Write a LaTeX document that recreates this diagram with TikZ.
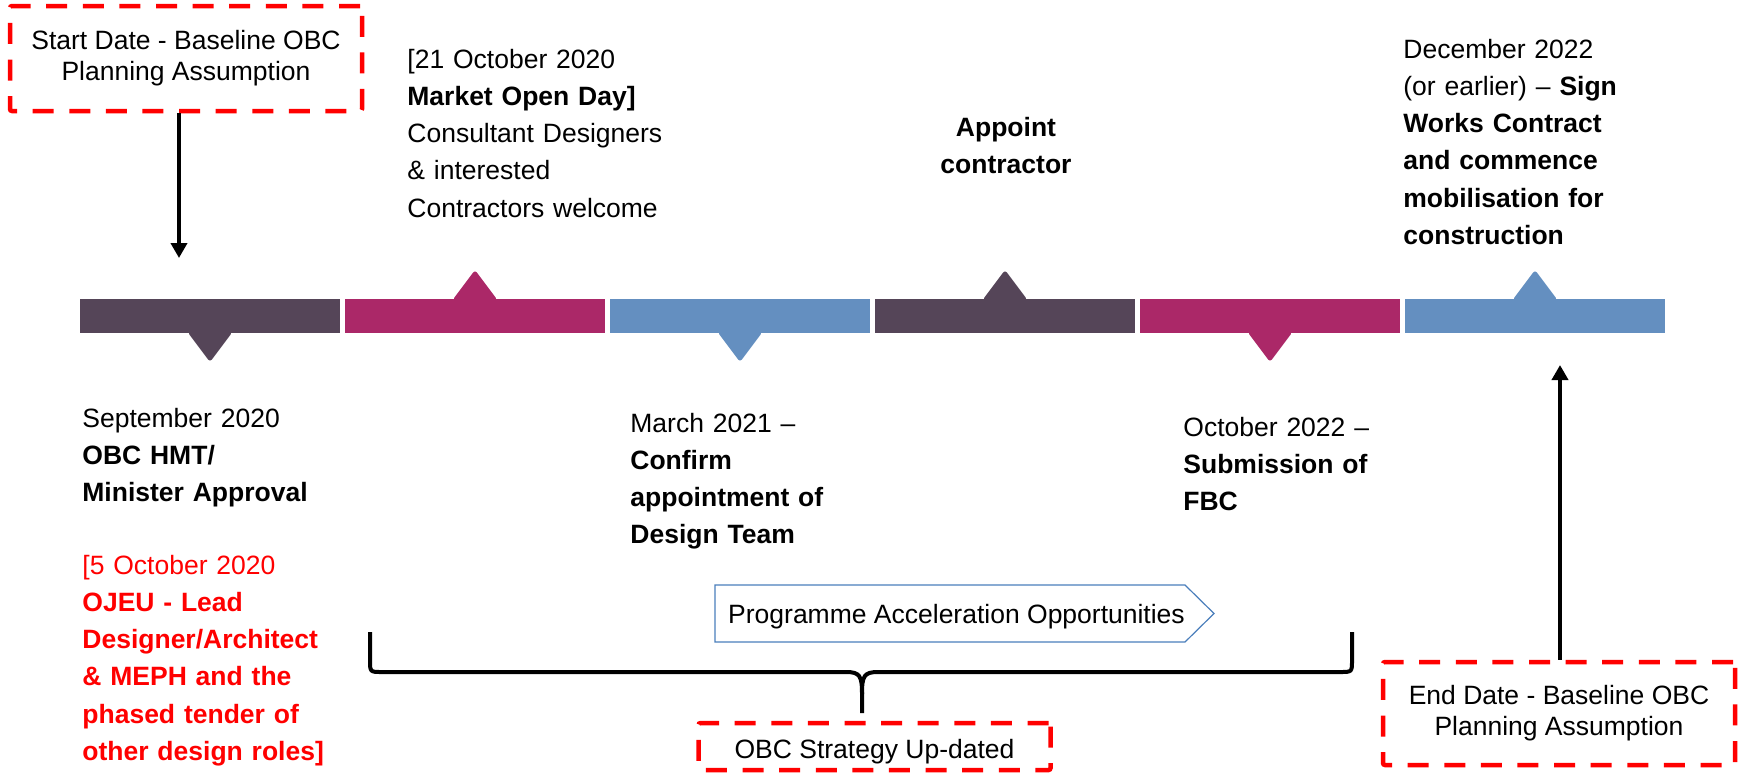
\documentclass[tikz,border=0pt]{standalone}
\usepackage{fontspec}
\setmainfont{Liberation Sans}
\usepackage{tikz}
\usetikzlibrary{arrows.meta}
\usetikzlibrary{positioning}

\definecolor{tlDark}{HTML}{554558}
\definecolor{tlPink}{HTML}{AB2868}
\definecolor{tlBlue}{HTML}{648FC0}
\definecolor{paoBlue}{HTML}{4A7EBB}

\newcommand{\tltextfont}{\fontsize{13.25pt}{18.65pt}\selectfont}
\newcommand{\boxtextfont}{\fontsize{13.25pt}{15.5pt}\selectfont}

\tikzset{
    milestone/.style = {font = \tltextfont, text width = 165pt, align = left, inner sep = 0pt, anchor = base west},
    obcbox/.style = {draw = red, line width = 2.25pt, dash pattern = on 10.5pt off 7.8pt, rounded corners = 1pt,
                     font = \boxtextfont, align = center, inner sep = 0pt, minimum width = 176pt},
    flow/.style = {line width = 2pt, -{Triangle[length = 7.5pt, width = 8pt]}},
}

\begin{document}
\begin{tikzpicture}[x = 0.5pt, y = -0.5pt]
    \useasboundingbox (0,0) rectangle (1739,773);

    % Draw the timeline bars and their markers:
    \foreach \i/\col/\dir in {0/tlDark/1, 1/tlPink/-1, 2/tlBlue/1, 3/tlDark/-1, 4/tlPink/1, 5/tlBlue/-1}
    {
        \fill [\col] ({80+265*\i},299) rectangle ++(260,34);
        \fill [\col, rounded corners = 1.5pt] ({187.5+265*\i},{316+16*\dir}) -- ++(22.5,{30*\dir}) -- ++(22.5,{-30*\dir}) -- cycle;
    }

    % Draw the baseline boxes:
    \node [obcbox, minimum height = 52.5pt] (start) at (186,58.5) {Start Date - Baseline OBC\\Planning Assumption};
    \node [obcbox, minimum height = 51.5pt] (end) at (1559,713.5) {End Date - Baseline OBC\\Planning Assumption};
    \node [obcbox, minimum height = 23.5pt, text height = 12pt, text depth = 0pt] (strategy) at (874.5,746.5) {OBC Strategy Up-dated};

    \coordinate (startmark) at (179,258);
    \coordinate (endmark) at (1560,365);
    \draw [flow] (start.south -| startmark) -- (startmark);
    \draw [flow] (end.north -| endmark) -- (endmark);

    % Draw the milestones above the bars:
    \node [milestone] (openday) at (407,68) {[21 October 2020\\\textbf{Market Open Day]}\\Consultant Designers\\\& interested\\Contractors welcome};
    \node [milestone, align = center, anchor = base] (appoint) at (1006,136) {\textbf{Appoint}\\\textbf{contractor}};
    \node [milestone] (works) at (1403,58) {December 2022\\(or earlier) – \textbf{Sign}\\\textbf{Works Contract}\\\textbf{and commence}\\\textbf{mobilisation for}\\\textbf{construction}};

    % Draw the milestones below the bars:
    \node [milestone] (approval) at (82,427) {September 2020\\\textbf{OBC HMT/}\\\textbf{Minister Approval}};
    \node [milestone, text = red] (ojeu) at (82,574) {[5 October 2020\\\textbf{OJEU - Lead}\\\textbf{Designer/Architect}\\\textbf{\& MEPH and the}\\\textbf{phased tender of}\\\textbf{other design roles]}};
    \node [milestone] (design) at (630,432) {March 2021 –\\\textbf{Confirm}\\\textbf{appointment of}\\\textbf{Design Team}};
    \node [milestone] (fbc) at (1183,436) {October 2022 –\\\textbf{Submission of}\\\textbf{FBC}};

    % Draw the acceleration arrow and the brace:
    \draw [paoBlue, line width = 0.6pt] (715,585) -- (1185,585) -- (1214,613.5) -- (1185,642) -- (715,642) -- cycle;
    \node [font = \tltextfont, inner sep = 0pt, anchor = base] (pao) at (956.5,623) {Programme Acceleration Opportunities};

    \draw [line width = 2pt, line join = round] (370,632) -- (370,660) .. controls (370,672) .. (382,672) -- (846,672)
        .. controls (860,672) and (862,676) .. (862,694) -- (862,713);
    \draw [line width = 2pt, line join = round] (1352,632) -- (1352,660) .. controls (1352,672) .. (1340,672) -- (878,672)
        .. controls (864,672) and (862,676) .. (862,694);
\end{tikzpicture}
\end{document}
